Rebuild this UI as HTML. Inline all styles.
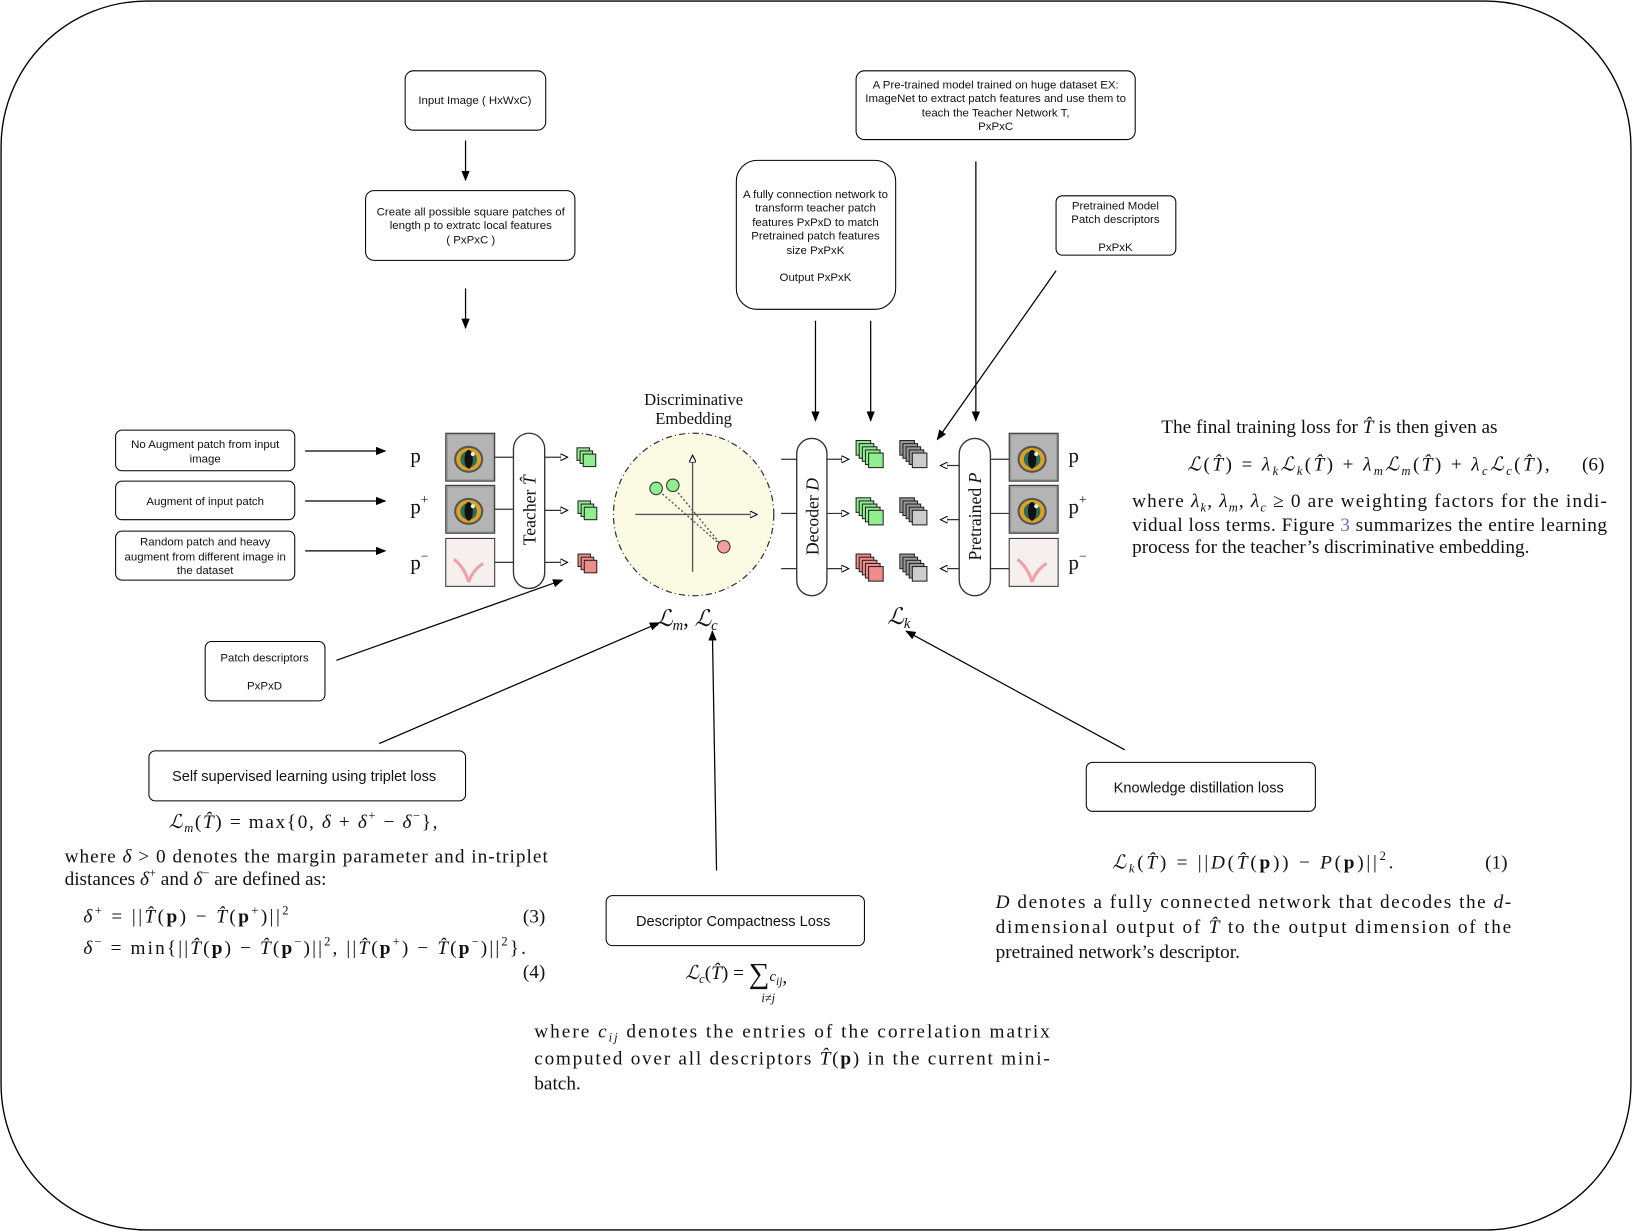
<!DOCTYPE html>
<html><head><meta charset="utf-8"><style>
html,body{margin:0;padding:0;background:#fff}
svg{display:block}
.s{font-family:"Liberation Sans",sans-serif;font-size:11px;fill:#111}
.m{font-family:"Liberation Serif",serif;fill:#111}
.i{font-style:italic}
</style></head><body>
<svg width="1632" height="1231" viewBox="0 0 1567 1182" xmlns="http://www.w3.org/2000/svg">
<defs>
<marker id="a" markerWidth="10" markerHeight="8" refX="9" refY="4" orient="auto" markerUnits="userSpaceOnUse"><path d="M0,0 L10,4 L0,8 z" fill="#000"/></marker>
<marker id="o" markerWidth="8" markerHeight="7" refX="7" refY="3.5" orient="auto" markerUnits="userSpaceOnUse"><path d="M0,0 L7,3.5 L0,7 z" fill="#fff" stroke="#000" stroke-width="1"/></marker>
<g id="eye"><rect width="47" height="46" fill="#9a9a9a" stroke="#333"/><rect x="2" y="2" width="43" height="42" fill="#b4b4b4"/><ellipse cx="22" cy="25" rx="14" ry="13" fill="#555"/><ellipse cx="22" cy="25" rx="12" ry="11" fill="#d9a326"/><ellipse cx="22" cy="25" rx="8" ry="8" fill="#2d6a5a"/><ellipse cx="22" cy="25" rx="4" ry="9" fill="#111"/><circle cx="26" cy="20" r="2" fill="#eee"/></g>
<g id="pink"><rect width="47" height="46" fill="#f5f0ee" stroke="#333"/><path d="M8,20 Q18,28 22,42 M22,42 Q26,30 36,24" stroke="#f0a0a8" stroke-width="3" fill="none"/></g>
<g id="sg3"><rect x="0" y="0" width="12" height="12" fill="#90ee90" stroke="#222"/><rect x="3" y="3" width="12" height="12" fill="#90ee90" stroke="#222"/><rect x="6" y="6" width="12" height="12" fill="#90ee90" stroke="#222"/></g>
<g id="sr3"><rect x="0" y="0" width="12" height="12" fill="#f08c8c" stroke="#222"/><rect x="3" y="3" width="12" height="12" fill="#f08c8c" stroke="#222"/><rect x="6" y="6" width="12" height="12" fill="#f08c8c" stroke="#222"/></g>
<g id="g5"><rect x="0" y="0" width="14" height="14" fill="#90ee90" stroke="#222"/><rect x="3" y="3" width="14" height="14" fill="#90ee90" stroke="#222"/><rect x="6" y="6" width="14" height="14" fill="#90ee90" stroke="#222"/><rect x="9" y="9" width="14" height="14" fill="#90ee90" stroke="#222"/><rect x="12" y="12" width="14" height="14" fill="#90ee90" stroke="#222"/></g>
<g id="r5"><rect x="0" y="0" width="14" height="14" fill="#f08c8c" stroke="#222"/><rect x="3" y="3" width="14" height="14" fill="#f08c8c" stroke="#222"/><rect x="6" y="6" width="14" height="14" fill="#f08c8c" stroke="#222"/><rect x="9" y="9" width="14" height="14" fill="#f08c8c" stroke="#222"/><rect x="12" y="12" width="14" height="14" fill="#f08c8c" stroke="#222"/></g>
<g id="k5"><rect x="0" y="0" width="14" height="14" fill="#999" stroke="#222"/><rect x="3" y="3" width="14" height="14" fill="#999" stroke="#222"/><rect x="6" y="6" width="14" height="14" fill="#999" stroke="#222"/><rect x="9" y="9" width="14" height="14" fill="#999" stroke="#222"/><rect x="12" y="12" width="14" height="14" fill="#ccc" stroke="#222"/></g>
</defs>
<rect x="1" y="1" width="1565" height="1180" rx="140" ry="140" fill="#fff" stroke="#000" stroke-width="1.3"/>

<g fill="#fff" stroke="#000" stroke-width="1">
<rect x="389" y="68" width="135" height="57" rx="8"/>
<rect x="351" y="183" width="201" height="67" rx="8"/>
<rect x="822" y="68" width="268" height="66" rx="8"/>
<rect x="707" y="154" width="153" height="143" rx="20"/>
<rect x="1014" y="188" width="115" height="57" rx="6"/>
<rect x="111" y="413" width="172" height="39" rx="6"/>
<rect x="111" y="462" width="172" height="37" rx="6"/>
<rect x="111" y="510" width="172" height="47" rx="6"/>
<rect x="197" y="616" width="115" height="57" rx="6"/>
<rect x="143" y="721" width="304" height="48" rx="6"/>
<rect x="582" y="860" width="248" height="48" rx="6"/>
<rect x="1043" y="732" width="220" height="47" rx="6"/>
</g>
<text class="s" x="456" y="100" text-anchor="middle">Input Image ( HxWxC)</text>
<text class="s" text-anchor="middle"><tspan x="452" y="207">Create all possible square patches of</tspan><tspan x="452" y="220">length p to extratc local features</tspan><tspan x="452" y="234">( PxPxC )</tspan></text>
<text class="s" text-anchor="middle"><tspan x="956" y="85">A Pre-trained model trained on huge dataset EX:</tspan><tspan x="956" y="98">ImageNet to extract patch features and use them to</tspan><tspan x="956" y="112">teach the Teacher Network T,</tspan><tspan x="956" y="125">PxPxC</tspan></text>
<text class="s" text-anchor="middle"><tspan x="783" y="190">A fully connection network to</tspan><tspan x="783" y="203">transform teacher patch</tspan><tspan x="783" y="217">features PxPxD to match</tspan><tspan x="783" y="230">Pretrained patch features</tspan><tspan x="783" y="244">size PxPxK</tspan><tspan x="783" y="270">Output PxPxK</tspan></text>
<text class="s" text-anchor="middle"><tspan x="1071" y="201">Pretrained Model</tspan><tspan x="1071" y="214">Patch descriptors</tspan><tspan x="1071" y="241">PxPxK</tspan></text>
<text class="s" text-anchor="middle"><tspan x="197" y="430">No Augment patch from input</tspan><tspan x="197" y="444">image</tspan></text>
<text class="s" x="197" y="485" text-anchor="middle">Augment of input patch</text>
<text class="s" text-anchor="middle"><tspan x="197" y="524">Random patch and heavy</tspan><tspan x="197" y="538">augment from different image in</tspan><tspan x="197" y="551">the dataset</tspan></text>
<text class="s" text-anchor="middle"><tspan x="254" y="635">Patch descriptors</tspan><tspan x="254" y="662">PxPxD</tspan></text>
<text class="s" x="292" y="750" text-anchor="middle" style="font-size:14px">Self supervised learning using triplet loss</text>
<text class="s" x="704" y="889" text-anchor="middle" style="font-size:14px">Descriptor Compactness Loss</text>
<text class="s" x="1151" y="761" text-anchor="middle" style="font-size:14px">Knowledge distillation loss</text>

<g stroke="#000" stroke-width="1.2" fill="none" marker-end="url(#a)">
<line x1="447" y1="135" x2="447" y2="173"/>
<line x1="447" y1="277" x2="447" y2="315"/>
<line x1="783" y1="308" x2="783" y2="404"/>
<line x1="836" y1="308" x2="836" y2="404"/>
<line x1="937" y1="155" x2="937" y2="404"/>
<line x1="1014" y1="260" x2="900" y2="422"/>
<line x1="293" y1="433" x2="370" y2="433"/>
<line x1="293" y1="481" x2="370" y2="481"/>
<line x1="293" y1="529" x2="370" y2="529"/>
<line x1="323" y1="634" x2="540" y2="557"/>
<line x1="364" y1="714" x2="633" y2="598"/>
<line x1="688" y1="836" x2="684" y2="606"/>
<line x1="1080" y1="720" x2="870" y2="606"/>
</g>

<g class="m" font-size="20"><text x="394" y="444">p</text><text x="394" y="493">p<tspan font-size="13" dy="-9">+</tspan></text><text x="394" y="547">p<tspan font-size="13" dy="-9">−</tspan></text>
<text x="1026" y="444">p</text><text x="1026" y="493">p<tspan font-size="13" dy="-9">+</tspan></text><text x="1026" y="547">p<tspan font-size="13" dy="-9">−</tspan></text></g>
<use href="#eye" x="428" y="416"/><use href="#eye" x="428" y="466"/><use href="#pink" x="428" y="517"/>
<use href="#eye" x="969" y="416"/><use href="#eye" x="969" y="466"/><use href="#pink" x="969" y="517"/>

<g stroke="#333" stroke-width="1.2" fill="none">
<line x1="475" y1="439" x2="493" y2="439"/><line x1="475" y1="489" x2="493" y2="489"/><line x1="475" y1="540" x2="493" y2="540"/>
<line x1="523" y1="439" x2="545" y2="439" marker-end="url(#o)"/><line x1="523" y1="490" x2="545" y2="490" marker-end="url(#o)"/><line x1="523" y1="540" x2="545" y2="540" marker-end="url(#o)"/>
<line x1="750" y1="441" x2="765" y2="441"/><line x1="750" y1="493" x2="765" y2="493"/><line x1="750" y1="546" x2="765" y2="546"/>
<line x1="794" y1="441" x2="815" y2="441" marker-end="url(#o)"/><line x1="794" y1="493" x2="815" y2="493" marker-end="url(#o)"/><line x1="794" y1="546" x2="815" y2="546" marker-end="url(#o)"/>
<line x1="921" y1="447" x2="903" y2="447" marker-end="url(#o)"/><line x1="921" y1="499" x2="903" y2="499" marker-end="url(#o)"/><line x1="921" y1="546" x2="903" y2="546" marker-end="url(#o)"/>
<line x1="951" y1="441" x2="969" y2="441"/><line x1="951" y1="493" x2="969" y2="493"/><line x1="951" y1="546" x2="969" y2="546"/>
</g>
<rect x="493" y="416" width="30" height="149" rx="15" fill="#fff" stroke="#333" stroke-width="1.3"/>
<rect x="765" y="421" width="29" height="151" rx="14.5" fill="#fff" stroke="#333" stroke-width="1.3"/>
<rect x="921" y="421" width="30" height="151" rx="15" fill="#fff" stroke="#333" stroke-width="1.3"/>
<text class="m" font-size="17" transform="translate(514,490) rotate(-90)" text-anchor="middle">Teacher <tspan class="i">T̂</tspan></text>
<text class="m" font-size="17" transform="translate(786,496) rotate(-90)" text-anchor="middle">Decoder <tspan class="i">D</tspan></text>
<text class="m" font-size="17" transform="translate(942,496) rotate(-90)" text-anchor="middle">Pretrained <tspan class="i">P</tspan></text>

<use href="#sg3" x="554" y="430"/><use href="#sg3" x="555" y="481"/><use href="#sr3" x="555" y="532"/>
<use href="#g5" x="822" y="423"/><use href="#g5" x="822" y="478"/><use href="#r5" x="822" y="532"/>
<use href="#k5" x="864" y="423"/><use href="#k5" x="864" y="478"/><use href="#k5" x="864" y="532"/>

<text class="m" font-size="16" fill="#444" text-anchor="middle"><tspan x="666" y="389">Discriminative</tspan><tspan x="666" y="407">Embedding</tspan></text>
<ellipse cx="666" cy="494" rx="77" ry="78" fill="#fbfbe4" stroke="#333" stroke-width="1.2" stroke-dasharray="6,3,1,3"/>
<g stroke="#555" stroke-width="1.3" fill="none">
<line x1="610" y1="494" x2="727" y2="494" marker-end="url(#o)"/>
<line x1="665" y1="549" x2="665" y2="437" marker-end="url(#o)"/>
<line x1="630" y1="469" x2="694" y2="525" stroke-dasharray="2,2"/>
<line x1="646" y1="467" x2="694" y2="525" stroke-dasharray="2,2"/>
</g>
<circle cx="630" cy="469" r="6" fill="#90ee90" stroke="#333"/><circle cx="646" cy="466" r="6" fill="#90ee90" stroke="#333"/><circle cx="695" cy="525" r="6" fill="#f4a0a0" stroke="#333"/>
<text class="m i" font-size="22" x="630" y="601">ℒ<tspan font-size="14" dy="4">m</tspan><tspan dy="-4" font-style="normal">, </tspan>ℒ<tspan font-size="14" dy="4">c</tspan></text>
<text class="m i" font-size="22" x="852" y="599">ℒ<tspan font-size="14" dy="4">k</tspan></text>

<g class="m" font-size="18.5">
<text x="1115" y="416">The final training loss for <tspan class="i">T̂</tspan> is then given as</text>
<text x="1140" y="452" textLength="348"><tspan class="i">ℒ</tspan>(<tspan class="i">T̂</tspan>) = <tspan class="i">λ<tspan font-size="12" dy="4">k</tspan></tspan><tspan dy="-4" class="i">ℒ<tspan font-size="12" dy="4">k</tspan></tspan><tspan dy="-4">(</tspan><tspan class="i">T̂</tspan>) + <tspan class="i">λ<tspan font-size="12" dy="4">m</tspan></tspan><tspan dy="-4" class="i">ℒ<tspan font-size="12" dy="4">m</tspan></tspan><tspan dy="-4">(</tspan><tspan class="i">T̂</tspan>) + <tspan class="i">λ<tspan font-size="12" dy="4">c</tspan></tspan><tspan dy="-4" class="i">ℒ<tspan font-size="12" dy="4">c</tspan></tspan><tspan dy="-4">(</tspan><tspan class="i">T̂</tspan>),</text>
<text x="1519" y="452">(6)</text>
<text x="1087" y="487" textLength="456">where <tspan class="i">λ</tspan><tspan font-size="12" class="i" dy="4">k</tspan><tspan dy="-4">, </tspan><tspan class="i">λ</tspan><tspan font-size="12" class="i" dy="4">m</tspan><tspan dy="-4">, </tspan><tspan class="i">λ</tspan><tspan font-size="12" class="i" dy="4">c</tspan><tspan dy="-4"> ≥ 0 are weighting factors for the indi-</tspan></text>
<text x="1087" y="510" textLength="456">vidual loss terms. Figure <tspan fill="#6a6ac0">3</tspan> summarizes the entire learning</text>
<text x="1087" y="531">process for the teacher’s discriminative embedding.</text>

<text x="162" y="795" textLength="258"><tspan class="i">ℒ<tspan font-size="12" dy="4">m</tspan></tspan><tspan dy="-4">(</tspan><tspan class="i">T̂</tspan>) = max{0, <tspan class="i">δ</tspan> + <tspan class="i">δ</tspan><tspan font-size="12" dy="-8">+</tspan><tspan dy="8"> − </tspan><tspan class="i">δ</tspan><tspan font-size="12" dy="-8">−</tspan><tspan dy="8">},</tspan></text>
<text x="62" y="828" textLength="464">where <tspan class="i">δ</tspan> &gt; 0 denotes the margin parameter and in-triplet</text>
<text x="62" y="850">distances <tspan class="i">δ</tspan><tspan font-size="12" dy="-8">+</tspan><tspan dy="8"> and </tspan><tspan class="i">δ</tspan><tspan font-size="12" dy="-8">−</tspan><tspan dy="8"> are defined as:</tspan></text>
<text x="80" y="886" textLength="197"><tspan class="i">δ</tspan><tspan font-size="12" dy="-8">+</tspan><tspan dy="8"> = ||</tspan><tspan class="i">T̂</tspan>(<tspan font-weight="bold">p</tspan>) − <tspan class="i">T̂</tspan>(<tspan font-weight="bold">p</tspan><tspan font-size="12" dy="-8">+</tspan><tspan dy="8">)||</tspan><tspan font-size="12" dy="-8">2</tspan></text>
<text x="502" y="886">(3)</text>
<text x="80" y="916" textLength="425"><tspan class="i">δ</tspan><tspan font-size="12" dy="-8">−</tspan><tspan dy="8"> = min{||</tspan><tspan class="i">T̂</tspan>(<tspan font-weight="bold">p</tspan>) − <tspan class="i">T̂</tspan>(<tspan font-weight="bold">p</tspan><tspan font-size="12" dy="-8">−</tspan><tspan dy="8">)||</tspan><tspan font-size="12" dy="-8">2</tspan><tspan dy="8">, ||</tspan><tspan class="i">T̂</tspan>(<tspan font-weight="bold">p</tspan><tspan font-size="12" dy="-8">+</tspan><tspan dy="8">) − </tspan><tspan class="i">T̂</tspan>(<tspan font-weight="bold">p</tspan><tspan font-size="12" dy="-8">−</tspan><tspan dy="8">)||</tspan><tspan font-size="12" dy="-8">2</tspan><tspan dy="8">}.</tspan></text>
<text x="502" y="939">(4)</text>

<text x="658" y="940"><tspan class="i">ℒ<tspan font-size="12" dy="4">c</tspan></tspan><tspan dy="-4">(</tspan><tspan class="i">T̂</tspan>) = <tspan font-size="28" dy="4">∑</tspan><tspan class="i" font-size="14" dy="-2">c<tspan font-size="11" dy="4">ij</tspan></tspan><tspan dy="-2">,</tspan></text>
<text x="731" y="962" font-size="12" class="i">i≠j</text>
<text x="513" y="996" textLength="495">where <tspan class="i">c<tspan font-size="12" dy="4">ij</tspan></tspan><tspan dy="-4"> denotes the entries of the correlation matrix</tspan></text>
<text x="513" y="1022" textLength="495">computed over all descriptors <tspan class="i">T̂</tspan>(<tspan font-weight="bold">p</tspan>) in the current mini-</text>
<text x="513" y="1046">batch.</text>

<text x="1068" y="834" textLength="270"><tspan class="i">ℒ<tspan font-size="12" dy="4">k</tspan></tspan><tspan dy="-4">(</tspan><tspan class="i">T̂</tspan>) = ||<tspan class="i">D</tspan>(<tspan class="i">T̂</tspan>(<tspan font-weight="bold">p</tspan>)) − <tspan class="i">P</tspan>(<tspan font-weight="bold">p</tspan>)||<tspan font-size="12" dy="-8">2</tspan><tspan dy="8">.</tspan></text>
<text x="1426" y="834">(1)</text>
<text x="956" y="872" textLength="495"><tspan class="i">D</tspan> denotes a fully connected network that decodes the <tspan class="i">d</tspan>-</text>
<text x="956" y="896" textLength="495">dimensional output of <tspan class="i">T̂</tspan> to the output dimension of the</text>
<text x="956" y="920">pretrained network’s descriptor.</text>
</g>
</svg>
</body></html>
